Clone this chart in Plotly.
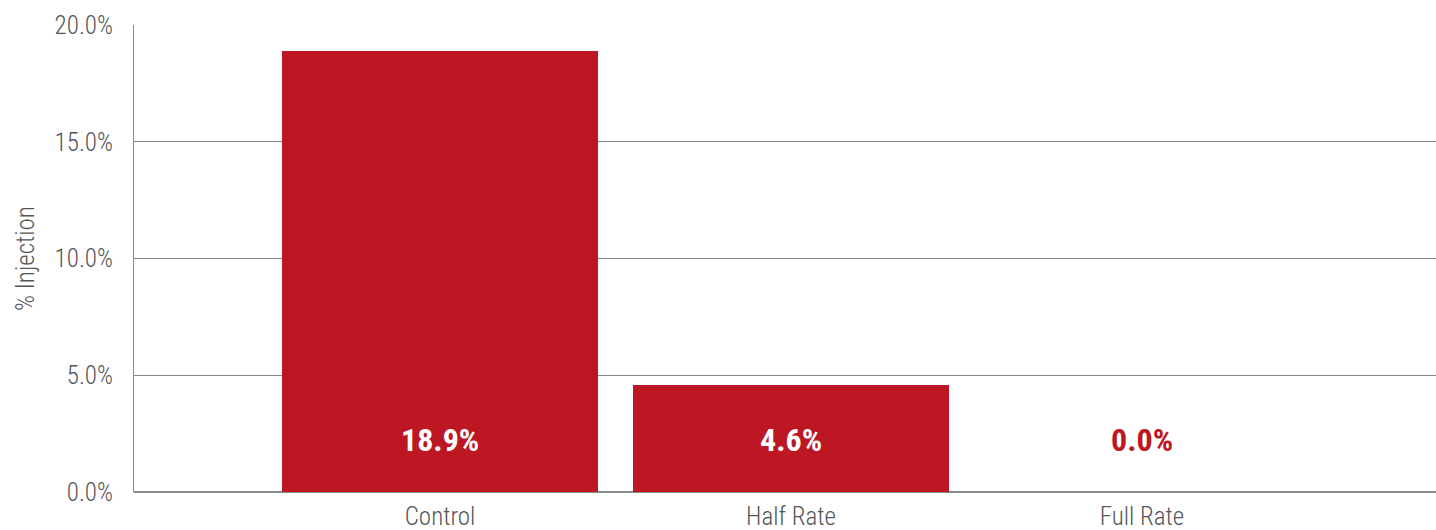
import plotly.graph_objects as go

categories = ["Control", "Half Rate", "Full Rate"]
values = [18.9, 4.6, 0.0]
labels = ["18.9%", "4.6%", "0.0%"]
tick_vals = [0, 5, 10, 15, 20]
tick_text = ["0.0%", "5.0%", "10.0%", "15.0%", "20.0%"]

BAR = "#BD1723"
GRID = "#8a8a8a"
TXT = "#555555"
FONT = "Liberation Sans Narrow, Roboto Condensed, Roboto, Arial"

fig = go.Figure()
fig.add_trace(go.Bar(
    x=list(range(len(categories))), y=values, width=0.9,
    marker=dict(color=BAR, line=dict(width=0)),
    hoverinfo="skip",
))

for i, (v, lab) in enumerate(zip(values, labels)):
    fig.add_annotation(
        x=i, y=0, yref="y", xref="x", text="<b>%s</b>" % lab,
        showarrow=False, yanchor="middle", yshift=52,
        font=dict(family=FONT, size=32, color="white" if v > 1 else BAR),
    )

fig.update_layout(
    width=1436, height=530,
    margin=dict(l=134, r=0, t=25, b=38),
    paper_bgcolor="white", plot_bgcolor="white",
    showlegend=False,
    bargap=0,
    font=dict(family=FONT, color=TXT, size=25),
)
fig.update_xaxes(
    range=[-0.872, 2.838],
    tickvals=list(range(len(categories))), ticktext=categories,
    showgrid=False, zeroline=False, showline=False, ticks="",
    ticklabelstandoff=7,
    tickfont=dict(family=FONT, size=25, color=TXT, weight=300),
)
fig.update_yaxes(
    range=[0, 20], tickvals=tick_vals, ticktext=tick_text,
    showgrid=True, gridcolor=GRID, gridwidth=1,
    zeroline=True, zerolinecolor=GRID, zerolinewidth=1.5,
    showline=True, linecolor=GRID, linewidth=1,
    ticks="", ticklabelstandoff=15,
    tickfont=dict(family=FONT, size=25, color=TXT, weight=300),
    title=dict(text="% Injection", standoff=12,
               font=dict(family=FONT, size=25, color=TXT, weight=300)),
)

fig.write_html(
    "out.html",
    config={"displayModeBar": False},
    post_script="document.body.style.margin='0';document.body.style.overflow='hidden';",
)
